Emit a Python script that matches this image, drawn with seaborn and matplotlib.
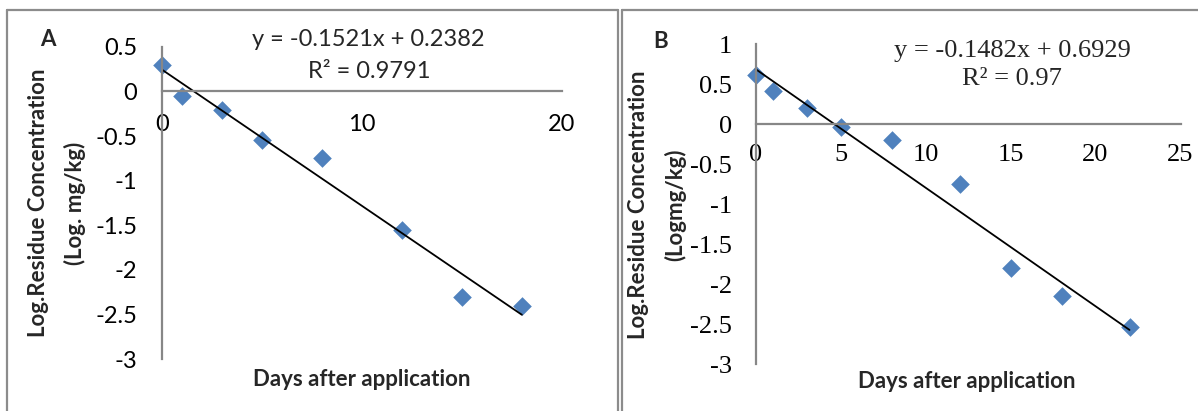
import matplotlib.pyplot as plt
import seaborn as sns
import pandas as pd
from matplotlib.lines import Line2D

# Data
days_a = [0, 1, 3, 5, 8, 12, 15, 18]
log_res_a = [0.29, -0.05, -0.21, -0.55, -0.75, -1.55, -2.30, -2.40]
days_b = [0, 1, 3, 5, 8, 12, 15, 18, 22]
log_res_b = [0.62, 0.41, 0.20, -0.04, -0.20, -0.75, -1.80, -2.15, -2.53]

eq_a = ['y = -0.1521x + 0.2382', 'R² = 0.9791']
eq_b = ['y = -0.1482x + 0.6929', 'R² = 0.97']
xticks_a = [0, 10, 20]
xticks_b = [0, 5, 10, 15, 20, 25]
yticks_a = [-3, -2.5, -2, -1.5, -1, -0.5, 0, 0.5]
yticks_b = [-3, -2.5, -2, -1.5, -1, -0.5, 0, 0.5, 1]

sns.set_style('white')
plt.rcParams['axes.unicode_minus'] = False

W, H = 1198, 411
BLUE = '#4F81BD'
GREY = '#878787'
SANS = 'Lato'
SERIF = 'Liberation Serif'

fig = plt.figure(figsize=(W / 100, H / 100), dpi=100)


def px_axes(x0, x1, ytop, ybot):
    return fig.add_axes([x0 / W, 1 - ybot / H, (x1 - x0) / W, (ybot - ytop) / H])


def draw_panel(ax, x, y, xticks, yticks, tick_font, tick_size, xpad, ypad, ylab):
    df = pd.DataFrame({'days': x, 'log_res': y})
    sns.regplot(data=df, x='days', y='log_res', ax=ax, ci=None, marker='D',
                color=BLUE,
                scatter_kws=dict(s=90, linewidths=0, alpha=1, clip_on=False),
                line_kws=dict(color='black', lw=1.3, clip_on=False))
    # x axis crosses at y = 0 (do this before tick setup, it resets the ticks)
    ax.spines['bottom'].set_position(('data', 0))
    ax.spines['top'].set_visible(False)
    ax.spines['right'].set_visible(False)
    for s in ['left', 'bottom']:
        ax.spines[s].set_color(GREY)
        ax.spines[s].set_linewidth(1.6)
    ax.set_xlim(xticks[0], xticks[-1])
    ax.set_ylim(yticks[0], yticks[-1])
    ax.set_xticks(xticks, ['%g' % t for t in xticks])
    ax.set_yticks(yticks, ['%g' % t for t in yticks])
    ax.tick_params(axis='both', direction='out', length=5.5, width=1.6, color=GREY, labelcolor='black')
    ax.tick_params(axis='x', pad=xpad)
    ax.tick_params(axis='y', pad=ypad)
    for lbl in ax.get_xticklabels() + ax.get_yticklabels():
        lbl.set_fontfamily(tick_font)
        lbl.set_fontsize(tick_size)
    ax.set_xlabel('Days after application', family=SANS, fontweight='bold', fontsize=16, va='center')
    ax.set_ylabel(ylab, family=SANS, fontweight='bold', fontsize=16, va='center', linespacing=1.85)
    ax.patch.set_alpha(0)


ax_a = px_axes(162.3, 561.8, 46.7, 359.3)
draw_panel(ax_a, days_a, log_res_a, xticks_a, yticks_a, SANS, 17, 11, 12.5,
           'Log.Residue Concentration\n(Log. mg/kg)')
ax_a.xaxis.set_label_coords(0.5, -0.066)
ax_a.yaxis.set_label_coords(-0.263, 0.5)

ax_b = px_axes(755.6, 1180.5, 44.3, 364.3)
draw_panel(ax_b, days_b, log_res_b, xticks_b, yticks_b, SERIF, 19, 9, 11.5,
           'Log.Residue Concentration\n(Logmg/kg)')
ax_b.xaxis.set_label_coords(0.496, -0.054)
ax_b.yaxis.set_label_coords(-0.232, 0.5)

# Trendline equations
fig.text(368 / W, 1 - 40 / H, eq_a[0], family=SANS, fontsize=17, ha='center', va='center')
fig.text(369 / W, 1 - 71 / H, eq_a[1], family=SANS, fontsize=17, ha='center', va='center')
fig.text(1012 / W, 1 - 51 / H, eq_b[0], family=SERIF, fontsize=19, ha='center', va='center')
fig.text(1011.5 / W, 1 - 79 / H, eq_b[1], family=SERIF, fontsize=19, ha='center', va='center')

# Panel letters
fig.text(48 / W, 1 - 39 / H, 'A', family=SANS, fontweight='bold', fontsize=16, ha='center', va='center')
fig.text(661 / W, 1 - 42 / H, 'B', family=SANS, fontweight='bold', fontsize=16, ha='center', va='center')

# Panel frames (open at the bottom / right like the source)
frame = dict(color='#8c8c8c', lw=1.6)
for xs, ys in [([7, 7], [10, 411]), ([7, 618], [10, 10]), ([618, 618], [10, 411]),
               ([622, 622], [10, 411]), ([622, 1198], [10, 10])]:
    fig.add_artist(Line2D([v / W for v in xs], [1 - v / H for v in ys], **frame))

fig.savefig('out.png', dpi=100)
